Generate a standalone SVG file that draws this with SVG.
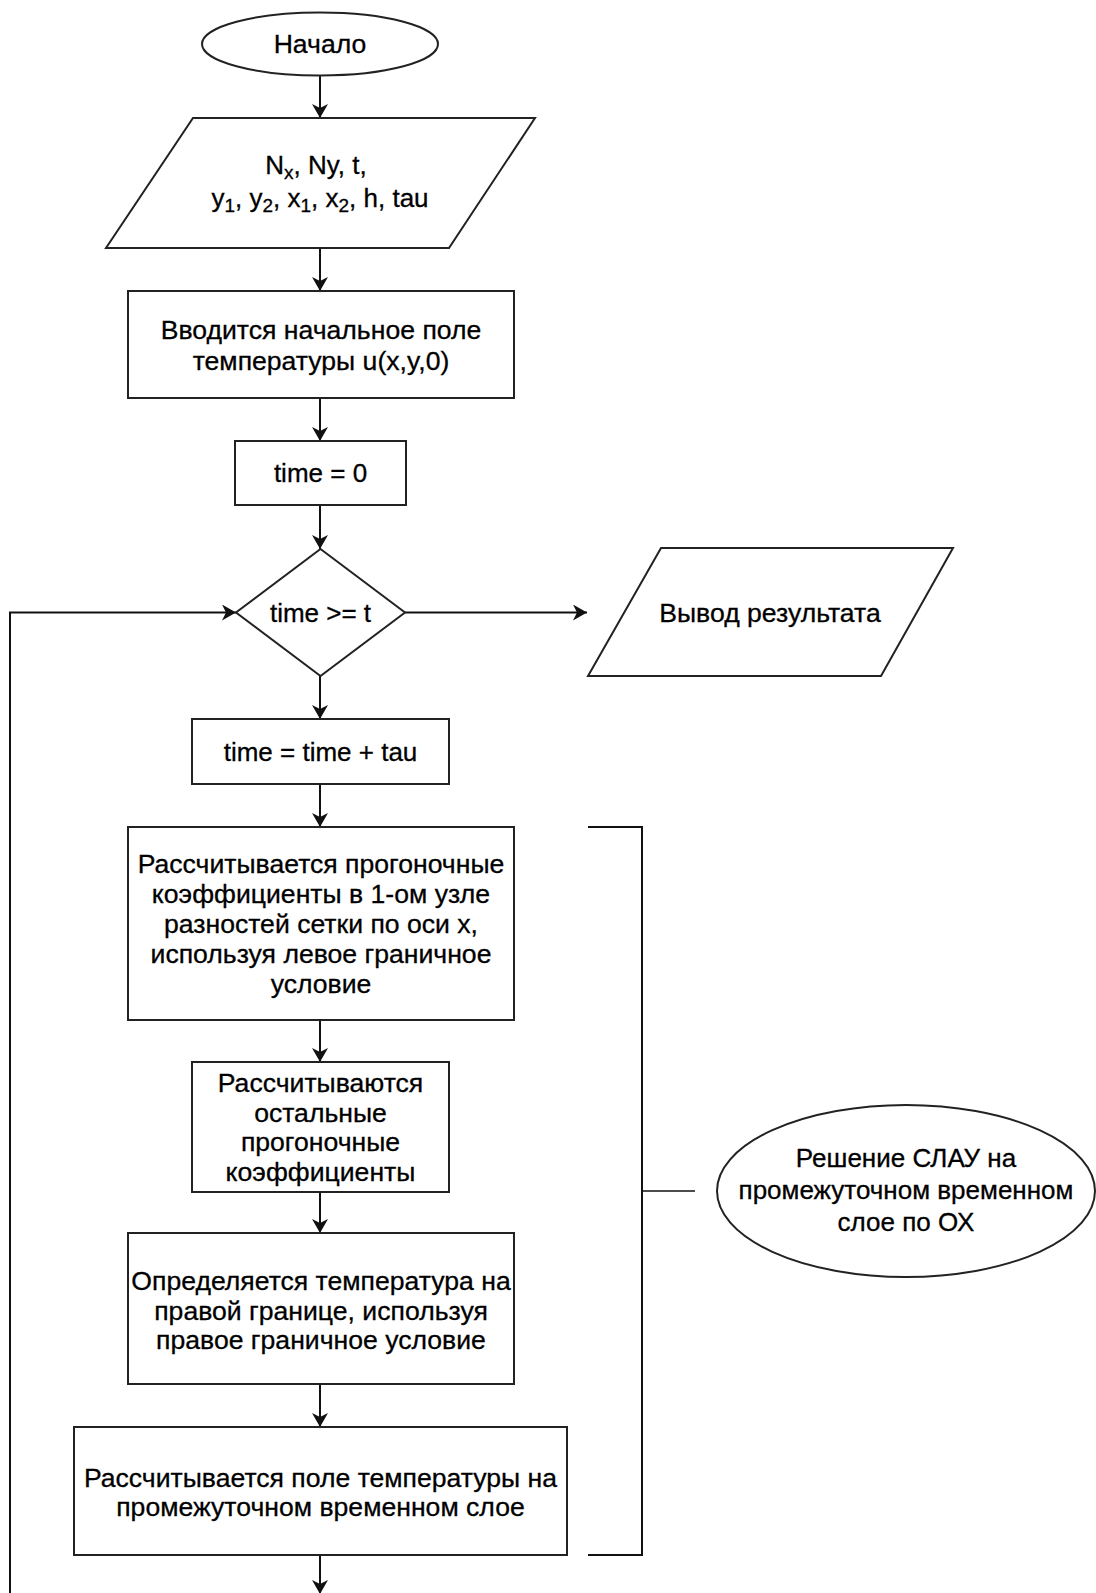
<svg xmlns="http://www.w3.org/2000/svg" width="1096" height="1593" viewBox="0 0 1096 1593">
<style>
.s{fill:#fff;stroke:#222;stroke-width:2}
.t{font-family:"Liberation Sans",Arial,Helvetica,sans-serif;font-size:26.6px;fill:#000;stroke:#000;stroke-width:0.3;text-anchor:middle}
.l{font-size:26px}
.n{font-size:26px}
.c{fill:none;stroke:#111;stroke-width:2}
.sub{font-size:19px}
</style>
<defs>
<marker id="ah" viewBox="0 0 14 16" refX="14" refY="8" markerWidth="14" markerHeight="16" markerUnits="userSpaceOnUse" orient="auto">
<path d="M0,0 L14,8 L0,16 L4,8 z" fill="#111"/>
</marker>
</defs>
<rect width="1096" height="1593" fill="#fff"/>
<g id="connectors">
<path class="c" d="M320,75.5 V118" marker-end="url(#ah)"/>
<path class="c" d="M320,248 V291" marker-end="url(#ah)"/>
<path class="c" d="M320,398 V441" marker-end="url(#ah)"/>
<path class="c" d="M320,505 V549" marker-end="url(#ah)"/>
<path class="c" d="M320,676 V719" marker-end="url(#ah)"/>
<path class="c" d="M320,784 V827" marker-end="url(#ah)"/>
<path class="c" d="M320,1020 V1062" marker-end="url(#ah)"/>
<path class="c" d="M320,1192 V1233" marker-end="url(#ah)"/>
<path class="c" d="M320,1384 V1427" marker-end="url(#ah)"/>
<path class="c" d="M320,1555 V1594" marker-end="url(#ah)"/>
<path class="c" d="M405,612.5 H587" marker-end="url(#ah)"/>
<path class="c" d="M10,1600 V612.5 H236" marker-end="url(#ah)"/>
<path class="c" d="M588,827 H642 V1555 H588"/>
<path class="c" d="M642,1191 H695" style="stroke-width:1.6"/>
</g>
<g id="start">
<ellipse class="s" cx="320" cy="44" rx="118" ry="31.5"/>
<text class="t" x="320" y="53">Начало</text>
</g>
<g id="input">
<polygon class="s" points="193,118 535,118 449,248 106,248"/>
<text class="t l" x="316" y="174">N<tspan class="sub" dy="5">x</tspan><tspan dy="-5">, Ny, t,</tspan></text>
<text class="t l" x="320" y="207">y<tspan class="sub" dy="5">1</tspan><tspan dy="-5">, y</tspan><tspan class="sub" dy="5">2</tspan><tspan dy="-5">, x</tspan><tspan class="sub" dy="5">1</tspan><tspan dy="-5">, x</tspan><tspan class="sub" dy="5">2</tspan><tspan dy="-5">, h, tau</tspan></text>
</g>
<g id="init-field">
<rect class="s" x="128" y="291" width="386" height="107"/>
<text class="t" x="321" y="339">Вводится начальное поле</text>
<text class="t" x="321" y="370">температуры u(x,y,0)</text>
</g>
<g id="time-zero">
<rect class="s" x="235" y="441" width="171" height="64"/>
<text class="t l" x="320.5" y="482">time = 0</text>
</g>
<g id="condition">
<polygon class="s" points="320.5,549 405,612.5 320.5,676 236,612.5"/>
<text class="t l" x="320.5" y="621.5">time &gt;= t</text>
</g>
<g id="output">
<polygon class="s" points="661,548 953,548 881,676 588,676"/>
<text class="t" x="770" y="621.5">Вывод результата</text>
</g>
<g id="time-step">
<rect class="s" x="192" y="719" width="257" height="65"/>
<text class="t l" x="320.5" y="760.5">time = time + tau</text>
</g>
<g id="first-coeffs">
<rect class="s" x="128" y="827" width="386" height="193"/>
<text class="t" x="321" y="873">Рассчитывается прогоночные</text>
<text class="t" x="321" y="903">коэффициенты в 1-ом узле</text>
<text class="t" x="321" y="933">разностей сетки по оси x,</text>
<text class="t" x="321" y="963">используя левое граничное</text>
<text class="t" x="321" y="993">условие</text>
</g>
<g id="other-coeffs">
<rect class="s" x="192" y="1062" width="257" height="130"/>
<text class="t" x="320.5" y="1092">Рассчитываются</text>
<text class="t" x="320.5" y="1122">остальные</text>
<text class="t" x="320.5" y="1151">прогоночные</text>
<text class="t" x="320.5" y="1181">коэффициенты</text>
</g>
<g id="right-boundary">
<rect class="s" x="128" y="1233" width="386" height="151"/>
<text class="t" x="321" y="1290">Определяется температура на</text>
<text class="t" x="321" y="1319.5">правой границе, используя</text>
<text class="t" x="321" y="1349">правое граничное условие</text>
</g>
<g id="field-layer">
<rect class="s" x="74" y="1427" width="493" height="128"/>
<text class="t" x="320.5" y="1487">Рассчитывается поле температуры на</text>
<text class="t" x="320.5" y="1516">промежуточном временном слое</text>
</g>
<g id="note">
<ellipse class="s" cx="906" cy="1191" rx="189" ry="86"/>
<text class="t n" x="906" y="1167">Решение СЛАУ на</text>
<text class="t n" x="906" y="1199">промежуточном временном</text>
<text class="t n" x="906" y="1231">слое по ОХ</text>
</g>
</svg>
